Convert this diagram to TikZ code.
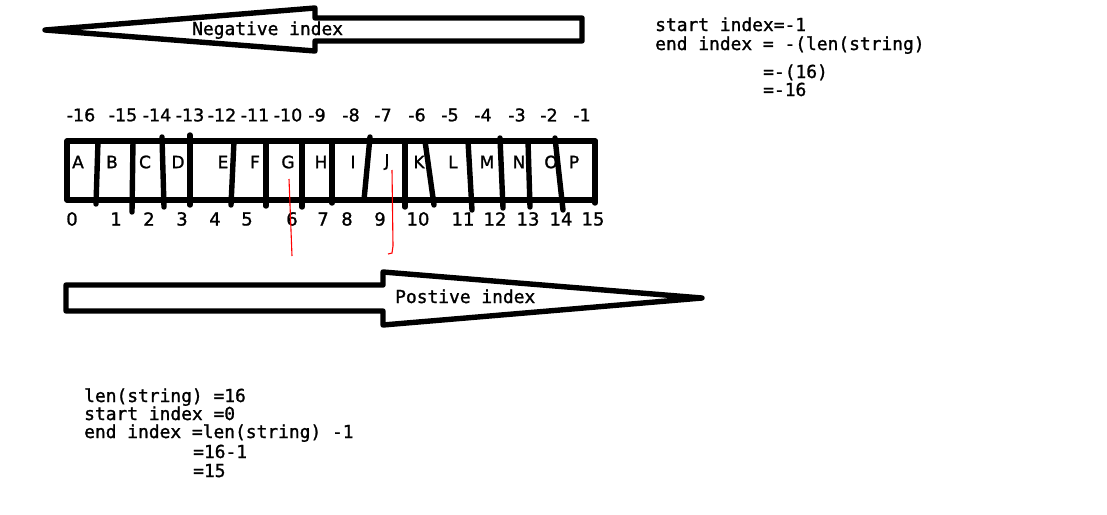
\documentclass[tikz,border=0pt]{standalone}
\usepackage{fontspec}
\newfontfamily\monof[FakeBold=1.3]{DejaVu Sans Mono}
\newfontfamily\sansf[FakeBold=1.2]{DejaVu Sans}
\begin{document}
\begin{tikzpicture}[x=1pt,y=-1pt,
  thick line/.style={line width=5.4pt,line join=round,line cap=round},
  divider/.style={line width=5.4pt,line cap=round},
  marker/.style={draw=red,line width=1.1pt},
  monotext/.style={inner sep=0pt,anchor=base west,font=\monof\fontsize{17.9}{20}\selectfont},
  cellletter/.style={inner sep=0pt,anchor=center,font=\sansf\fontsize{17}{20}\selectfont},
  negnum/.style={inner sep=0pt,anchor=center,font=\sansf\fontsize{17.5}{20}\selectfont},
  posnum/.style={inner sep=0pt,anchor=center,font=\sansf\fontsize{18}{20}\selectfont}]
\useasboundingbox[fill=white] (0,0) rectangle (1107,514);

% top arrow (negative index)
\draw[thick line] (582,18) -- (315,18) -- (315,8) -- (45,30) -- (315,51) -- (315,41) -- (582,41) -- cycle;
\node[monotext] (negtxt) at (192,35) {Negative index};

% bottom arrow (positive index)
\draw[thick line] (66,285) -- (383,285) -- (383,272) -- (702,298) -- (383,325) -- (383,311) -- (66,311) -- cycle;
\node[monotext] (postxt) at (395,303) {Postive index};

% string box
\draw[thick line] (67,141) rectangle (595,200);
\draw[divider] (98,141) -- (96,204);
\draw[divider] (133,141) -- (132,212);
\draw[divider] (162,137) -- (164,207);
\draw[divider] (190,135) -- (190,205);
\draw[divider] (234,141) -- (231,205);
\draw[divider] (266,141) -- (266,206);
\draw[divider] (302,141) -- (302,207);
\draw[divider] (332,141) -- (332,203);
\draw[divider] (370,137) -- (364,200);
\draw[divider] (405,141) -- (405,207);
\draw[divider] (425,141) -- (434,205);
\draw[divider] (468,141) -- (472,210);
\draw[divider] (500,138) -- (503,208);
\draw[divider] (528,141) -- (530,207);
\draw[divider] (555,138) -- (563,210);
\draw[divider] (595,141) -- (595,203);

% letters
\foreach \ch/\xx [count=\i] in {A/78,B/112,C/145,D/178,E/223,F/255,G/288,H/321,I/353,J/387,K/419,L/453,M/487,N/519,O/551,P/574}
  \node[cellletter] (ch\i) at (\xx,162) {\ch};

% negative indices
\foreach \nn/\xx [count=\i] in {-16/81,-15/123,-14/157,-13/190,-12/222,-11/255,-10/288,-9/317,-8/351,-7/383,-6/417,-5/450,-4/483,-3/517,-2/549,-1/582}
  \node[negnum] (neg\i) at (\xx,115) {\nn};

% positive indices
\foreach \pp/\xx [count=\i] in {0/72,1/116,2/149,3/182,4/215,5/247,6/292,7/323,8/347,9/380,10/418,11/463,12/495,13/528,14/561,15/593}
  \node[posnum] (pos\i) at (\xx,219) {\pp};

% red marks
\draw[marker] (289,179) -- (292,256);
\draw[marker] (392,170) -- (393,246) -- (392,253) -- (388,254);

% formulas (negative)
\node[monotext] (n1) at (655,31) {start index=-1};
\node[monotext] (n2) at (655,50) {end index = -(len(string)};
\node[monotext] (n3) at (763,78) {=-(16)};
\node[monotext] (n4) at (763,96) {=-16};

% formulas (positive)
\node[monotext] (p1) at (84,402) {len(string) =16};
\node[monotext] (p2) at (84,420) {start index =0};
\node[monotext] (p3) at (84,438) {end index =len(string) -1};
\node[monotext] (p4) at (193,458) {=16-1};
\node[monotext] (p5) at (193,477) {=15};
\end{tikzpicture}
\end{document}
